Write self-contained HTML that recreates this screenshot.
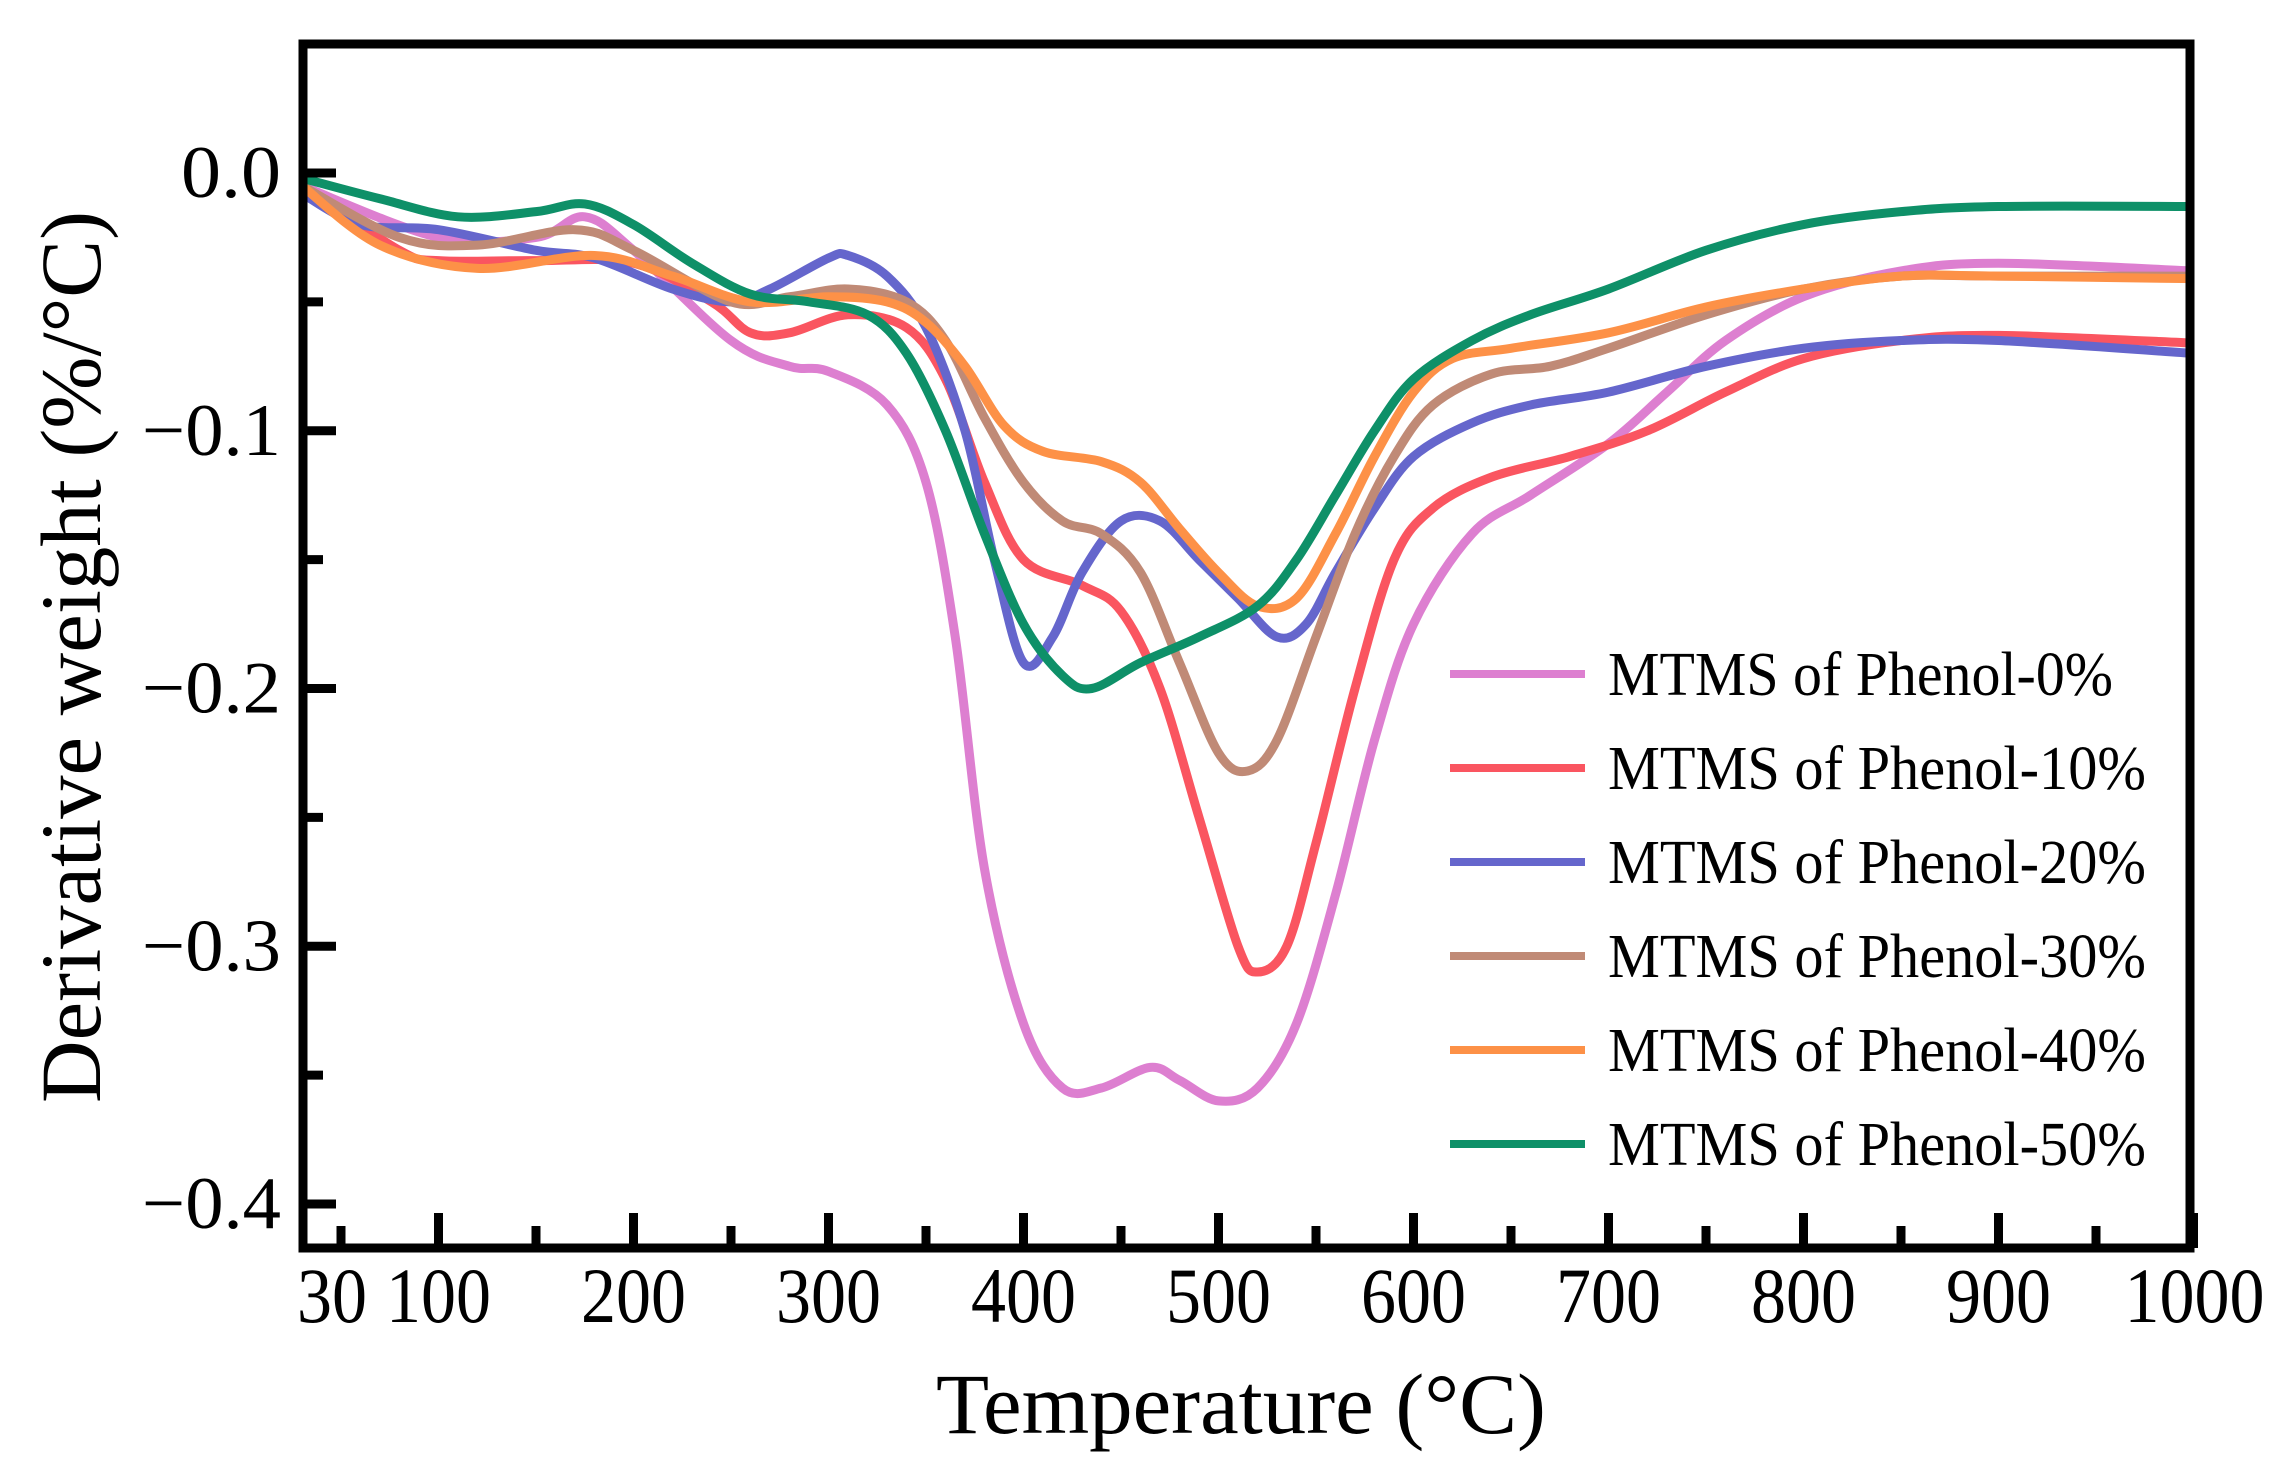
<!DOCTYPE html>
<html><head><meta charset="utf-8"><style>
html,body{margin:0;padding:0;background:#fff}
svg{display:block}
text{font-family:"Liberation Serif",serif;fill:#000}
</style></head><body>
<svg id="chart" width="2292" height="1483" viewBox="0 0 2292 1483">
<g id="plot"></g>
<g id="axes"></g>
<text x="1241" y="1433" font-size="86" text-anchor="middle" textLength="610" lengthAdjust="spacingAndGlyphs">Temperature (°C)</text>
<text transform="translate(100,657) rotate(-90)" font-size="86" text-anchor="middle" textLength="892" lengthAdjust="spacingAndGlyphs">Derivative weight (%/°C)</text>
<g id="legend"></g>
</svg>
<script>
const seriesNames = ["MTMS of Phenol-0%","MTMS of Phenol-10%","MTMS of Phenol-20%","MTMS of Phenol-30%","MTMS of Phenol-40%","MTMS of Phenol-50%"];
const seriesColors = ["#dd7fd0","#fa5560","#6566cc","#c08a76","#fd9147","#0e9068"];
const t0 = [30,100,150,175,200,250,280,300,330,350,365,380,400,420,440,465,480,500,520,540,560,580,600,630,660,700,730,760,800,850,900,1000];
const v0 = [-0.005,-0.025,-0.025,-0.017,-0.03,-0.065,-0.075,-0.077,-0.09,-0.12,-0.18,-0.27,-0.33,-0.355,-0.355,-0.347,-0.352,-0.36,-0.355,-0.33,-0.28,-0.22,-0.175,-0.14,-0.125,-0.105,-0.085,-0.065,-0.048,-0.038,-0.035,-0.038];
const t10 = [30,80,100,150,200,240,260,280,310,340,360,380,400,430,450,470,490,510,520,535,550,570,590,610,640,680,720,760,800,850,900,1000];
const v10 = [-0.005,-0.03,-0.034,-0.034,-0.035,-0.05,-0.062,-0.062,-0.055,-0.06,-0.08,-0.12,-0.15,-0.16,-0.17,-0.2,-0.25,-0.3,-0.31,-0.3,-0.26,-0.2,-0.15,-0.13,-0.118,-0.11,-0.1,-0.085,-0.072,-0.065,-0.063,-0.066];
const t20 = [30,60,100,150,180,220,250,270,300,310,330,350,370,385,400,415,430,450,470,490,510,530,545,560,580,600,630,660,700,750,800,850,900,1000];
const v20 = [-0.008,-0.02,-0.022,-0.03,-0.033,-0.045,-0.05,-0.045,-0.033,-0.032,-0.04,-0.06,-0.1,-0.15,-0.19,-0.18,-0.155,-0.135,-0.135,-0.15,-0.165,-0.18,-0.175,-0.155,-0.13,-0.11,-0.097,-0.09,-0.085,-0.075,-0.068,-0.065,-0.065,-0.07];
const t30 = [30,80,120,170,200,250,280,310,340,360,380,400,420,440,460,480,500,515,530,550,570,590,610,640,670,700,750,800,850,900,1000];
const v30 = [-0.005,-0.025,-0.028,-0.022,-0.03,-0.05,-0.048,-0.045,-0.05,-0.065,-0.095,-0.12,-0.135,-0.14,-0.155,-0.19,-0.225,-0.232,-0.22,-0.18,-0.14,-0.11,-0.09,-0.078,-0.075,-0.068,-0.055,-0.045,-0.04,-0.04,-0.04];
const t40 = [30,70,120,180,220,260,300,330,350,370,390,410,440,460,480,500,520,540,560,580,600,620,650,700,750,800,850,900,1000];
const v40 = [-0.005,-0.028,-0.037,-0.032,-0.04,-0.05,-0.048,-0.05,-0.058,-0.075,-0.098,-0.108,-0.112,-0.12,-0.138,-0.155,-0.168,-0.165,-0.14,-0.11,-0.085,-0.072,-0.068,-0.062,-0.052,-0.045,-0.04,-0.04,-0.041];
const t50 = [30,70,110,150,175,200,230,260,290,320,340,360,380,400,420,435,460,490,520,540,560,580,600,630,660,700,750,800,850,900,1000];
const v50 = [-0.002,-0.01,-0.017,-0.015,-0.012,-0.02,-0.035,-0.047,-0.05,-0.055,-0.07,-0.1,-0.14,-0.175,-0.195,-0.2,-0.19,-0.18,-0.168,-0.15,-0.125,-0.1,-0.08,-0.065,-0.055,-0.045,-0.03,-0.02,-0.015,-0.013,-0.013];
const xTicks = [100,200,300,400,500,600,700,800,900,1000];
const xTickLabels = ["100","200","300","400","500","600","700","800","900","1000"];
const yTicks = [0,-0.1,-0.2,-0.3,-0.4];
const yTickLabels = ["0.0","\u22120.1","\u22120.2","\u22120.3","\u22120.4"];

const NS="http://www.w3.org/2000/svg";
const X=t=>302+(t-30)*1.95;
const Y=v=>173-v*2577.5;
function mk(tag,parent){const e=document.createElementNS(NS,tag);parent.appendChild(e);return e;}
const plot=document.getElementById('plot'),axes=document.getElementById('axes'),legend=document.getElementById('legend');
const allT=[t0,t10,t20,t30,t40,t50],allV=[v0,v10,v20,v30,v40,v50];
function smooth(ts,vs){const p=ts.map((t,i)=>[X(t),Y(vs[i])]);let d="M"+p[0][0]+","+p[0][1];
for(let i=0;i<p.length-1;i++){const a=p[Math.max(0,i-1)],b=p[i],c=p[i+1],e=p[Math.min(p.length-1,i+2)];
d+=" C"+(b[0]+(c[0]-a[0])/6)+","+(b[1]+(c[1]-a[1])/6)+" "+(c[0]-(e[0]-b[0])/6)+","+(c[1]-(e[1]-b[1])/6)+" "+c[0]+","+c[1];}return d;}
allT.forEach((ts,i)=>{const p=mk('path',plot);


p.setAttribute('d',smooth(ts,allV[i]));p.setAttribute('fill','none');p.setAttribute('stroke',seriesColors[i]);p.setAttribute('stroke-width','9');p.setAttribute('stroke-linejoin','round');});
const fr=mk('rect',axes);


fr.setAttribute('x',303);fr.setAttribute('y',44);fr.setAttribute('width',1887);fr.setAttribute('height',1204);fr.setAttribute('fill','none');fr.setAttribute('stroke','#000');fr.setAttribute('stroke-width','9');
function tick(x1,y1,x2,y2,name){const l=mk('line',axes);


l.setAttribute('x1',x1);l.setAttribute('y1',y1);l.setAttribute('x2',x2);l.setAttribute('y2',y2);l.setAttribute('stroke','#000');l.setAttribute('stroke-width','9');}
for(let t=50;t<=1000;t+=50){const maj=t%100===0;tick(X(t),1248,X(t),1248-(maj?35:22),maj?'x-major-tick':'x-minor-tick');}
for(let v=0;v>=-0.4001;v-=0.05){const maj=Math.abs(Math.round(v*100))%10===0;tick(303,Y(v),303+(maj?33:20),Y(v),maj?'y-major-tick':'y-minor-tick');}
xTicks.forEach((t,i)=>{const s=mk('text',axes);


s.setAttribute('x',X(t)+(t===1000?1:0));s.setAttribute('y',1322);s.setAttribute('font-size','78');s.setAttribute('text-anchor','middle');
s.setAttribute('textLength',xTickLabels[i].length*35);s.setAttribute('lengthAdjust','spacingAndGlyphs');s.textContent=xTickLabels[i];});
const s30=mk('text',axes);


s30.setAttribute('x',332);s30.setAttribute('y',1322);s30.setAttribute('font-size','78');s30.setAttribute('text-anchor','middle');s30.setAttribute('textLength','70');s30.setAttribute('lengthAdjust','spacingAndGlyphs');s30.textContent='30';
yTicks.forEach((v,i)=>{const s=mk('text',axes);


s.setAttribute('x',281);s.setAttribute('y',Y(v)+24);s.setAttribute('font-size','74');s.setAttribute('text-anchor','end');
s.setAttribute('textLength',v===0?100:139);s.setAttribute('lengthAdjust','spacingAndGlyphs');s.textContent=yTickLabels[i];});
seriesNames.forEach((n,i)=>{const y=674+i*94;const l=mk('line',legend);


l.setAttribute('x1',1450);l.setAttribute('x2',1585);l.setAttribute('y1',y);l.setAttribute('y2',y);l.setAttribute('stroke',seriesColors[i]);l.setAttribute('stroke-width','8');
const s=mk('text',legend);


s.setAttribute('x',1608);s.setAttribute('y',y+21);s.setAttribute('font-size','62');s.setAttribute('textLength',i===0?505:538);s.setAttribute('lengthAdjust','spacingAndGlyphs');s.textContent=n;});
</script>
</body></html>
